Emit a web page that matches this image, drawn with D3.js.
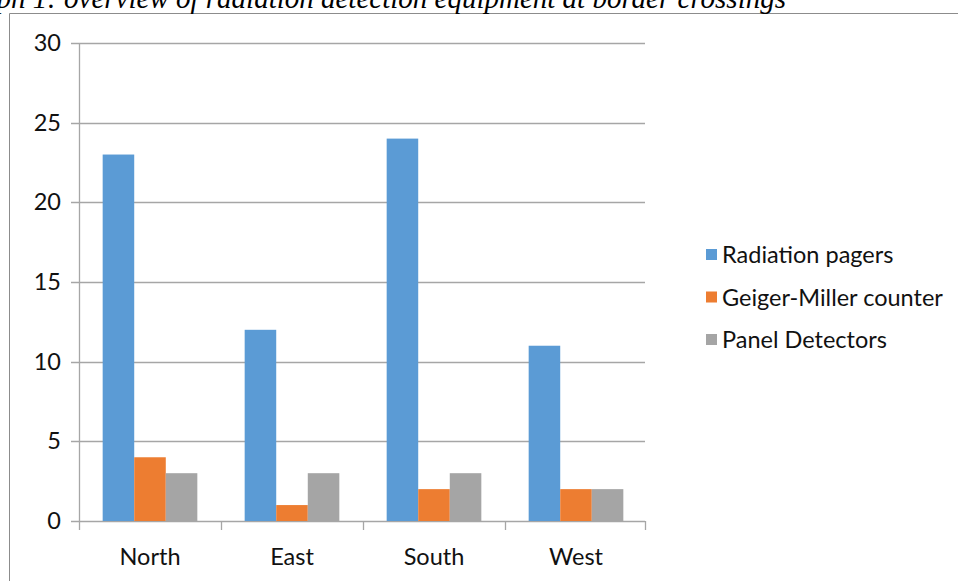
<!DOCTYPE html>
<head>
    <script src="https://d3js.org/d3.v7.min.js"></script>
    <style>
        body { margin: 0; background: #fff; }
        svg { display: block; }
        .axis text { font-family: Lato, "Open Sans", sans-serif; font-size: 23.5px; fill: #111; }
    </style>
</head>
<body>
    <div class="chart"></div>
    <script>
        const regions = ["North", "East", "South", "West"];
        const seriesNames = ["Radiation pagers", "Geiger-Miller counter", "Panel Detectors"];
        const radiationPagers = [23, 12, 24, 11];
        const geigerCounters = [4, 1, 2, 2];
        const panelDetectors = [3, 3, 3, 2];
        const yTicks = [0, 5, 10, 15, 20, 25, 30];
        const colors = ["#5b9bd5", "#ed7d31", "#a5a5a5"];

        const allSeries = [radiationPagers, geigerCounters, panelDetectors];
        const data = regions.map((r, i) => ({
            region: r,
            values: seriesNames.map((s, j) => ({ series: s, value: allSeries[j][i] }))
        }));

        const W = 958, H = 581;
        const svg = d3.select(".chart").append("svg")
            .attr("width", W)
            .attr("height", H);

        // frame around the figure
        svg.append("path")
            .attr("d", `M9.5,${H} V13.5 H${W}`)
            .attr("fill", "none")
            .attr("stroke", "#8c8c8c")
            .attr("stroke-width", 1);

        // title, cut off at the top left like in the source page
        svg.append("text")
            .attr("x", 786)
            .attr("y", 8)
            .attr("text-anchor", "end")
            .style("font-family", "'Liberation Serif', serif")
            .style("font-style", "italic")
            .style("font-size", "29px")
            .text("Graph 1: overview of radiation detection equipment at border crossings");

        const plot = { left: 79, right: 647, top: 43, bottom: 521 };

        const x0 = d3.scaleBand()
            .domain(regions)
            .range([plot.left, plot.right])
            .paddingInner(0)
            .paddingOuter(0);

        const x1 = d3.scaleBand()
            .domain(seriesNames)
            .range([0, x0.bandwidth()])
            .paddingOuter(0.75);

        const y = d3.scaleLinear()
            .domain([0, 30])
            .range([plot.bottom, plot.top]);

        // gridlines
        svg.append("g")
            .selectAll("line")
            .data(yTicks)
            .join("line")
            .attr("x1", plot.left - 8)
            .attr("x2", plot.right - 2)
            .attr("y1", d => Math.round(y(d)) + 0.5)
            .attr("y2", d => Math.round(y(d)) + 0.5)
            .attr("stroke", "#a6a6a6")
            .attr("stroke-width", 1.3);

        // y axis line
        svg.append("line")
            .attr("x1", plot.left + 0.5).attr("x2", plot.left + 0.5)
            .attr("y1", plot.top).attr("y2", plot.bottom)
            .attr("stroke", "#a6a6a6")
            .attr("stroke-width", 1.3);

        // bars
        const groups = svg.append("g")
            .selectAll("g")
            .data(data)
            .join("g")
            .attr("transform", d => `translate(${x0(d.region)},0)`);

        groups.selectAll("rect")
            .data(d => d.values)
            .join("rect")
            .attr("x", d => x1(d.series))
            .attr("y", d => y(d.value))
            .attr("width", x1.bandwidth())
            .attr("height", d => y(0) - y(d.value))
            .attr("fill", (d, i) => colors[i]);

        // y axis labels
        const yAxis = d3.axisLeft(y)
            .tickValues(yTicks)
            .tickSize(0)
            .tickPadding(18);
        svg.append("g")
            .attr("class", "axis y-axis")
            .attr("transform", `translate(${plot.left},0)`)
            .call(yAxis)
            .call(g => g.select(".domain").remove());

        // x axis
        const xAxis = d3.axisBottom(x0)
            .tickSize(0)
            .tickPadding(27);
        svg.append("g")
            .attr("class", "axis x-axis")
            .attr("transform", `translate(0,${plot.bottom})`)
            .call(xAxis)
            .call(g => g.select(".domain").remove());

        // category separators under the x axis
        svg.append("g")
            .selectAll("line")
            .data(regions.concat([null]))
            .join("line")
            .attr("x1", (d, i) => i < regions.length ? x0(d) + 0.5 : plot.right - 1.5)
            .attr("x2", (d, i) => i < regions.length ? x0(d) + 0.5 : plot.right - 1.5)
            .attr("y1", plot.bottom)
            .attr("y2", plot.bottom + 9)
            .attr("stroke", "#a6a6a6")
            .attr("stroke-width", 1.3);

        // legend
        const legend = svg.append("g")
            .selectAll("g")
            .data(seriesNames)
            .join("g")
            .attr("transform", (d, i) => `translate(706,${255 + i * 42.5})`);

        legend.append("rect")
            .attr("x", 0)
            .attr("y", -6)
            .attr("width", 11)
            .attr("height", 11)
            .attr("fill", (d, i) => colors[i]);

        legend.append("text")
            .attr("x", 16)
            .attr("y", 0)
            .attr("dy", "0.35em")
            .style("font-family", "Lato, 'Open Sans', sans-serif")
            .style("font-size", "23.5px")
            .style("fill", "#111")
            .text(d => d);
    </script>
</body>
</html>
